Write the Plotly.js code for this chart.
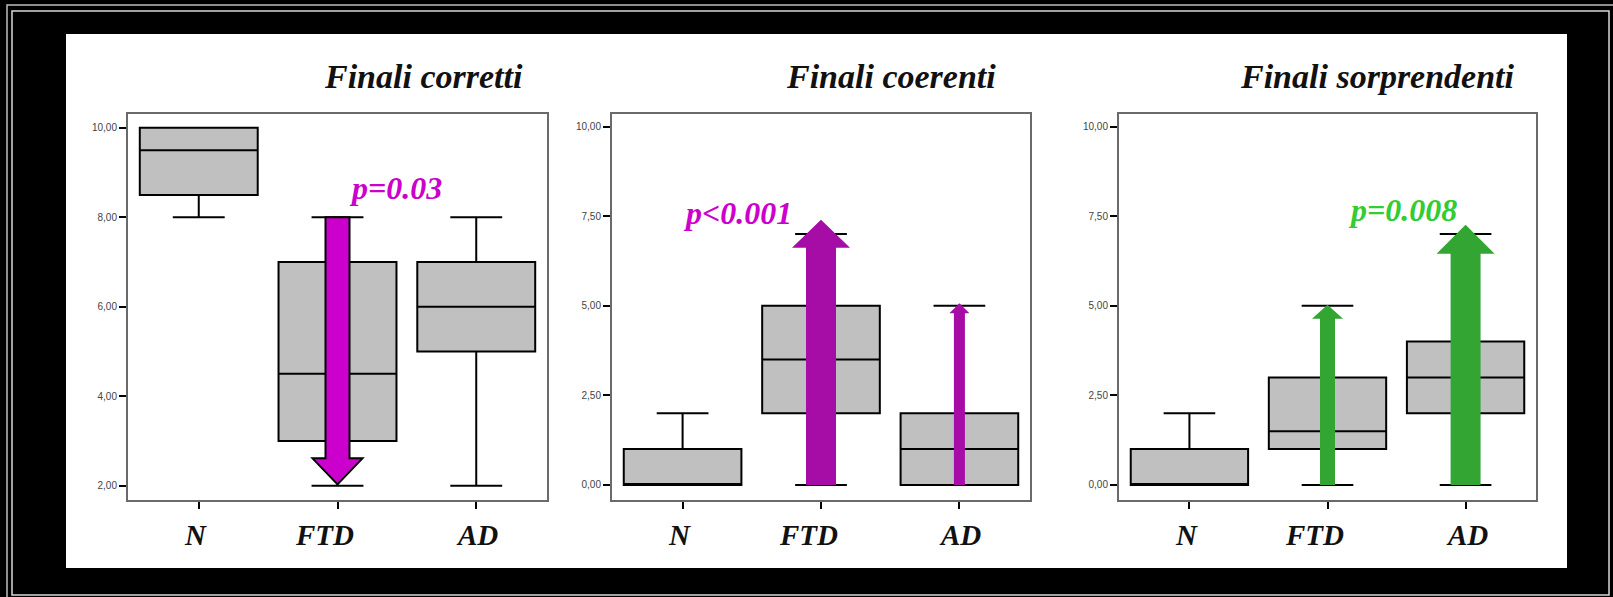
<!DOCTYPE html>
<html><head><meta charset="utf-8">
<script src="https://cdn.plot.ly/plotly-3.0.1.min.js"></script>
<style>html,body{margin:0;padding:0;background:#000;}#chart{width:1613px;height:597px;}</style>
</head><body><div id="chart"></div>
<script>
// ---- data ----
const categories = ['N', 'FTD', 'AD'];
const categoryPos = [0, 1, 2];
const panelTitles = ['Finali corretti', 'Finali coerenti', 'Finali sorprendenti'];

// Finali corretti
const corrLow    = [8, 2, 2];
const corrQ1     = [8.5, 3, 5];
const corrMedian = [9.5, 4.5, 6];
const corrQ3     = [10, 7, 7];
const corrHigh   = [10, 8, 8];

// Finali coerenti
const coerLow    = [0, 0, 0];
const coerQ1     = [0, 2, 0];
const coerMedian = [0, 3.5, 1];
const coerQ3     = [1, 5, 2];
const coerHigh   = [2, 7, 5];

// Finali sorprendenti
const sorpLow    = [0, 0, 0];
const sorpQ1     = [0, 1, 2];
const sorpMedian = [0, 1.5, 3];
const sorpQ3     = [1, 3, 4];
const sorpHigh   = [2, 5, 7];

// y tick labels
const ticks1Vals = [2, 4, 6, 8, 10];
const ticks1Text = ['2,00', '4,00', '6,00', '8,00', '10,00'];
const ticks23Vals = [0, 2.5, 5, 7.5, 10];
const ticks23Text = ['0,00', '2,50', '5,00', '7,50', '10,00'];

// arrows (panel, category, from value, to value)
const arrowPanel = [1, 2, 2, 3, 3];
const arrowCat   = [1, 1, 2, 1, 2];
const arrowFrom  = [8, 0, 0, 0, 0];
const arrowTo    = [2.03, 7.4, 5.07, 5.03, 7.26];

// p-value labels
const pLabels = ['p=0.03', 'p<0.001', 'p=0.008'];

// ---- layout geometry / styles ----
const W = 1613, H = 597;
const plotLeft = [128, 612, 1119], plotRight = [547, 1030, 1536];
const plotTop = 114, plotBottom = 500;
const xRange = [-0.51, 2.51];
const yRanges = [[1.68, 10.31], [-0.42, 10.35], [-0.42, 10.35]];
const X = px => px / W, Y = py => 1 - py / H;
const labelShift = [-3, -13, 1];

const arrowStyle = [
  {shaft: 24, head: 50, headLen: 26, fill: '#cc00cc', line: '#000', lw: 2},
  {shaft: 30, head: 58, headLen: 28, fill: '#a60ca6', line: null, lw: 0},
  {shaft: 11, head: 20, headLen: 10, fill: '#a60ca6', line: null, lw: 0},
  {shaft: 15, head: 31, headLen: 14, fill: '#33a532', line: null, lw: 0},
  {shaft: 30, head: 58, headLen: 29, fill: '#33a532', line: null, lw: 0}
];
const pStyle = [
  {x: 395, y: 188, color: '#cc00cc'},
  {x: 737, y: 213, color: '#cc00cc'},
  {x: 1402, y: 210, color: '#33cc33'}
];
const titleRight = [525, 998, 1517];

const stats = [
  [corrLow, corrQ1, corrMedian, corrQ3, corrHigh],
  [coerLow, coerQ1, coerMedian, coerQ3, coerHigh],
  [sorpLow, sorpQ1, sorpMedian, sorpQ3, sorpHigh]
];

const traces = stats.map((s, i) => ({
  type: 'box',
  x: categoryPos,
  lowerfence: s[0], q1: s[1], median: s[2], q3: s[3], upperfence: s[4],
  xaxis: i === 0 ? 'x' : 'x' + (i + 1),
  yaxis: i === 0 ? 'y' : 'y' + (i + 1),
  width: 0.85,
  whiskerwidth: 0.44,
  fillcolor: '#c0c0c0',
  line: {color: '#000', width: 2},
  boxpoints: false,
  hoverinfo: 'skip',
  showlegend: false
}));

const layout = {
  width: W, height: H,
  margin: {l: 0, r: 0, t: 0, b: 0},
  paper_bgcolor: '#000',
  plot_bgcolor: '#fff',
  showlegend: false,
  shapes: [],
  annotations: []
};

const yDomain = [Y(plotBottom), Y(plotTop)];
for (let i = 0; i < 3; i++) {
  const sfx = i === 0 ? '' : String(i + 1);
  layout['xaxis' + sfx] = {
    domain: [X(plotLeft[i]), X(plotRight[i])],
    anchor: 'y' + sfx,
    range: xRange,
    tickmode: 'array', tickvals: categoryPos, ticktext: categories,
    showticklabels: false,
    ticks: 'outside', ticklen: 7, tickwidth: 2, tickcolor: '#000',
    showline: true, linecolor: '#6a6a6a', linewidth: 2, mirror: true,
    showgrid: false, zeroline: false, fixedrange: true
  };
  layout['yaxis' + sfx] = {
    domain: yDomain,
    anchor: 'x' + sfx,
    range: yRanges[i],
    tickmode: 'array',
    tickvals: i === 0 ? ticks1Vals : ticks23Vals,
    ticktext: i === 0 ? ticks1Text : ticks23Text,
    ticks: 'outside', ticklen: 7, tickwidth: 2, tickcolor: '#000',
    tickfont: {family: 'Liberation Sans', size: 10, color: '#444'},
    showline: true, linecolor: '#6a6a6a', linewidth: 2, mirror: true,
    showgrid: false, zeroline: false, fixedrange: true
  };
  // category labels under the axis
  categories.forEach((c, j) => {
    layout.annotations.push({
      xref: 'x' + sfx, yref: 'paper', x: categoryPos[j], y: Y(535),
      xanchor: 'center', yanchor: 'middle', showarrow: false, xshift: labelShift[j],
      text: c,
      font: {family: 'Liberation Serif', size: 29, color: '#111', weight: 'bold', style: 'italic'}
    });
  });
  layout.annotations.push({
    xref: 'paper', yref: 'paper', x: X(titleRight[i]), y: Y(77),
    xanchor: 'right', yanchor: 'middle', showarrow: false,
    text: panelTitles[i],
    font: {family: 'Liberation Serif', size: 34, color: '#111', weight: 'bold', style: 'italic'}
  });
  layout.annotations.push({
    xref: 'paper', yref: 'paper', x: X(pStyle[i].x), y: Y(pStyle[i].y),
    xanchor: 'center', yanchor: 'middle', showarrow: false,
    text: pLabels[i],
    font: {family: 'Liberation Serif', size: 32, color: pStyle[i].color, weight: 'bold', style: 'italic'}
  });
}

// background panel and frame lines
layout.shapes.push({type: 'rect', xref: 'paper', yref: 'paper', layer: 'below',
  x0: X(66), x1: X(1567), y0: Y(568), y1: Y(34), fillcolor: '#fff', line: {width: 0}});
layout.shapes.push({type: 'rect', xref: 'paper', yref: 'paper', layer: 'below',
  x0: X(7), x1: X(1625), y0: Y(610), y1: Y(5), fillcolor: 'rgba(0,0,0,0)', line: {color: '#bdbdbd', width: 1.5}});
layout.shapes.push({type: 'rect', xref: 'paper', yref: 'paper', layer: 'below',
  x0: X(12), x1: X(1609), y0: Y(595), y1: Y(11), fillcolor: 'rgba(0,0,0,0)', line: {color: '#d8d8d8', width: 1.5}});

// arrows
for (let k = 0; k < arrowPanel.length; k++) {
  const p = arrowPanel[k] - 1;
  const st = arrowStyle[k];
  const pxPerX = (plotRight[p] - plotLeft[p]) / (xRange[1] - xRange[0]);
  const pxPerY = (plotBottom - plotTop) / (yRanges[p][1] - yRanges[p][0]);
  const x = arrowCat[k], y0 = arrowFrom[k], y1 = arrowTo[k];
  const dir = Math.sign(y1 - y0);
  const base = y1 - dir * st.headLen / pxPerY;
  const sw = st.shaft / pxPerX / 2, hw = st.head / pxPerX / 2;
  const path = `M${x - sw},${y0} L${x - sw},${base} L${x - hw},${base} L${x},${y1} L${x + hw},${base} L${x + sw},${base} L${x + sw},${y0} Z`;
  const sfx = p === 0 ? '' : String(p + 1);
  layout.shapes.push({
    type: 'path', xref: 'x' + sfx, yref: 'y' + sfx, layer: 'above', path: path,
    fillcolor: st.fill,
    line: st.line ? {color: st.line, width: st.lw} : {width: 0}
  });
}

Plotly.newPlot('chart', traces, layout, {staticPlot: true, displayModeBar: false});
</script>
</body></html>
